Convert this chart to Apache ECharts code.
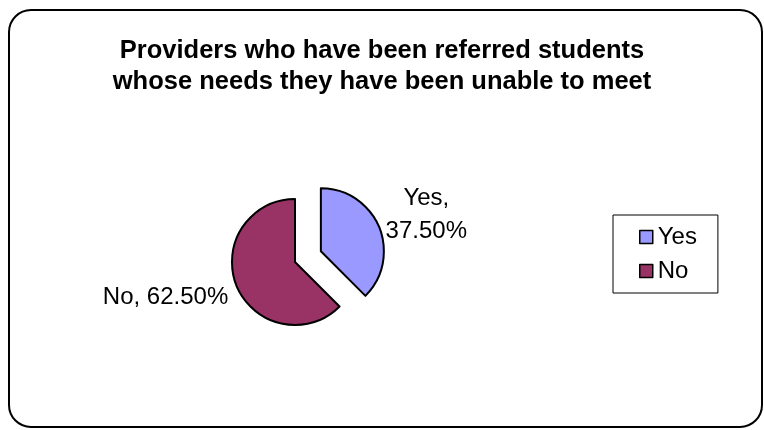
<!DOCTYPE html>
<html>
<head>
<meta charset="utf-8">
<script src="https://cdn.jsdelivr.net/npm/echarts@6/dist/echarts.min.js"></script>
<style>
  html, body { margin: 0; padding: 0; background: #fff; }
  #chart { width: 764px; height: 430px; }
</style>
</head>
<body>
<div id="chart"></div>
<script>
// Survey answers: share of providers (percent)
const categories = ['Yes', 'No'];
const shares = [37.5, 62.5];
const sliceColors = ['#9999FF', '#993366'];
const chartTitle = 'Providers who have been referred students\nwhose needs they have been unable to meet';

const FONT = '"Liberation Sans", Arial, sans-serif';

const pieData = categories.map((name, i) => ({
  name: name,
  value: shares[i],
  selected: name === 'Yes',
  itemStyle: { color: sliceColors[i] },
  label: name === 'Yes'
    ? { formatter: p => '{c|' + p.name + ',}\n{c|' + p.value.toFixed(2) + '%}' }
    : { formatter: p => p.name + ', ' + p.value.toFixed(2) + '%' }
}));

const chart = echarts.init(document.getElementById('chart'), null, { renderer: 'canvas' });
chart.setOption({
  animation: false,
  backgroundColor: '#fff',
  textStyle: { fontFamily: FONT },
  title: {
    text: chartTitle,
    left: 'center',
    top: 30,
    textStyle: { fontFamily: FONT, fontSize: 25.5, fontWeight: 'bold', color: '#000', lineHeight: 31 }
  },
  legend: {
    orient: 'vertical',
    left: 613,
    top: 215,
    padding: [10, 21, 10, 26],
    borderColor: '#000',
    borderWidth: 1,
    itemWidth: 13,
    itemHeight: 13,
    itemGap: 10,
    icon: 'rect',
    itemStyle: { borderColor: '#000', borderWidth: 1.5 },
    textStyle: { fontFamily: FONT, fontSize: 24, color: '#000' },
    data: categories
  },
  graphic: [{
    type: 'rect',
    silent: true,
    shape: { x: 9, y: 10, width: 753, height: 417, r: 22 },
    style: { fill: 'none', stroke: '#000', lineWidth: 2 }
  }],
  series: [{
    type: 'pie',
    center: [295, 262],
    radius: 63,
    startAngle: 90,
    clockwise: true,
    selectedMode: 'single',
    selectedOffset: 28,
    avoidLabelOverlap: false,
    itemStyle: { borderColor: '#000', borderWidth: 2 },
    emphasis: { disabled: true },
    label: {
      show: true,
      position: 'outside',
      fontFamily: FONT,
      fontSize: 24,
      color: '#000',
      lineHeight: 33,
      rich: {
        c: { fontFamily: FONT, fontSize: 24, color: '#000', lineHeight: 33, align: 'center' }
      }
    },
    labelLine: { show: false, length: 6, length2: 0 },
    labelLayout: p => (p.dataIndex === 0 ? { dx: -4, dy: -10 } : { dx: 2, dy: 9 }),
    data: pieData
  }]
});
</script>
</body>
</html>
